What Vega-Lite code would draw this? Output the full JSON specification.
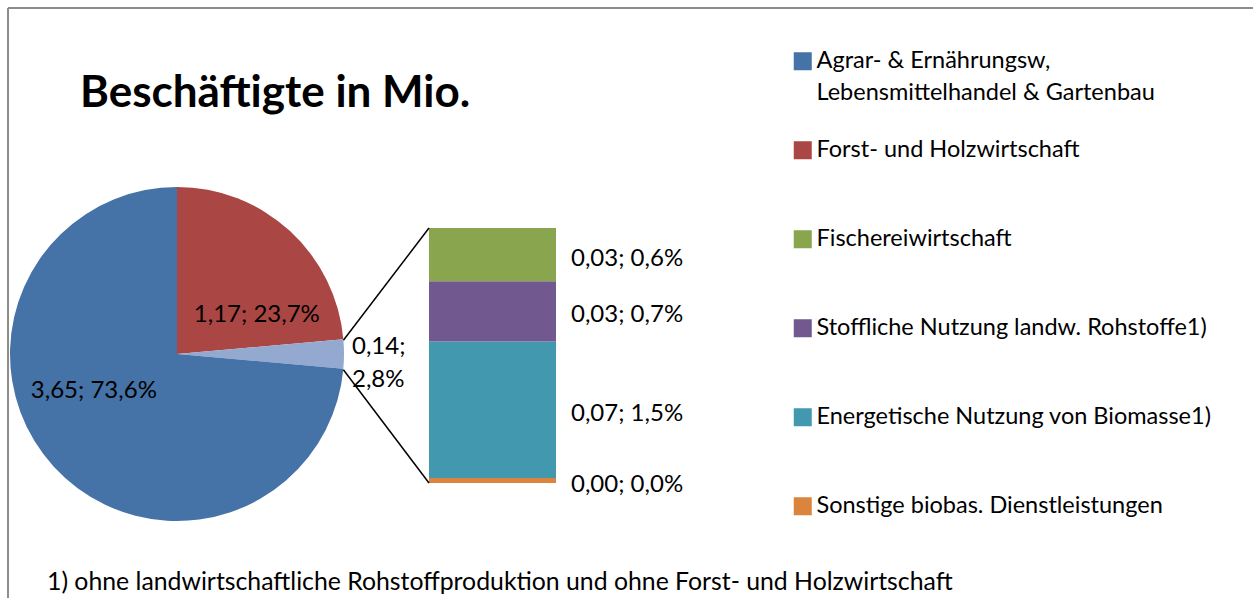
{
  "$schema": "https://vega.github.io/schema/vega-lite/v6.json",
  "width": 1253,
  "height": 598,
  "autosize": "none",
  "padding": 0,
  "background": "white",
  "config": {"view": {"stroke": null}, "font": "Lato"},
  "title": {"text": "Beschäftigte in Mio.", "anchor": "start", "frame": "group", "orient": "top", "offset": -151, "dx": 80, "baseline": "alphabetic", "fontSize": 44, "fontWeight": "bold", "font": "Lato", "color": "black"},
  "datasets": {
    "pie": [
      {"name": "Forst- und Holzwirtschaft", "value": 1.17, "pct": 23.7, "label": "1,17; 23,7%", "order": 1},
      {"name": "Andere", "value": 0.14, "pct": 2.8, "label": "0,14;\n2,8%", "order": 2},
      {"name": "Agrar- & Ernährungsw, Lebensmittelhandel & Gartenbau", "value": 3.65, "pct": 73.6, "label": "3,65; 73,6%", "order": 3}
    ],
    "bar": [
      {"name": "Sonstige biobas. Dienstleistungen", "value": 0.0027, "pct": 0.055, "label": "0,00; 0,0%", "order": 1},
      {"name": "Energetische Nutzung von Biomasse1)", "value": 0.074, "pct": 1.5, "label": "0,07; 1,5%", "order": 2},
      {"name": "Stoffliche Nutzung landw. Rohstoffe1)", "value": 0.033, "pct": 0.66, "label": "0,03; 0,7%", "order": 3},
      {"name": "Fischereiwirtschaft", "value": 0.029, "pct": 0.585, "label": "0,03; 0,6%", "order": 4}
    ]
  },
  "data": {"values": [{}]},
  "layer": [
    {
      "mark": {"type": "rule", "color": "#8c8c8c", "strokeWidth": 2},
      "encoding": {
        "x": {"datum": 0.64, "type": "quantitative", "scale": {"domain": [0, 100], "nice": false, "zero": false}, "axis": null},
        "y": {"datum": -1.2627, "type": "quantitative", "scale": {"domain": [-1.2627, 5.3036], "nice": false, "zero": false}, "axis": null},
        "y2": {"datum": 5.2157}
      }
    },
    {
      "mark": {"type": "rule", "color": "#8c8c8c", "strokeWidth": 2},
      "encoding": {
        "x": {"datum": 0.64, "type": "quantitative"},
        "x2": {"datum": 100},
        "y": {"datum": 5.2157, "type": "quantitative"}
      }
    },
    {
      "data": {"name": "pie"},
      "mark": {"type": "arc", "radius": 167},
      "encoding": {
        "theta": {"field": "value", "type": "quantitative", "stack": true},
        "order": {"field": "order", "type": "quantitative"},
        "x": {"datum": 14.126, "type": "quantitative"},
        "y": {"datum": 1.4165, "type": "quantitative"},
        "color": {
          "field": "name", "type": "nominal",
          "scale": {
            "domain": ["Agrar- & Ernährungsw, Lebensmittelhandel & Gartenbau", "Forst- und Holzwirtschaft", "Fischereiwirtschaft", "Stoffliche Nutzung landw. Rohstoffe1)", "Energetische Nutzung von Biomasse1)", "Sonstige biobas. Dienstleistungen", "Andere"],
            "range": ["#4572A7", "#AA4643", "#89A54E", "#71588F", "#4198AF", "#DB843D", "#93A9CF"]
          },
          "legend": {
            "values": ["Agrar- & Ernährungsw, Lebensmittelhandel & Gartenbau", "Forst- und Holzwirtschaft", "Fischereiwirtschaft", "Stoffliche Nutzung landw. Rohstoffe1)", "Energetische Nutzung von Biomasse1)", "Sonstige biobas. Dienstleistungen"],
            "orient": "none", "legendX": 791, "legendY": 49.5, "title": null,
            "symbolType": "square", "symbolSize": 324, "symbolStrokeWidth": 0,
            "labelFont": "Lato", "labelFontSize": 23.5, "labelColor": "black", "labelLimit": 600, "labelOffset": 2,
            "rowPadding": 32, "padding": 0,
            "labelExpr": "datum.label == 'Agrar- & Ernährungsw, Lebensmittelhandel & Gartenbau' ? ['Agrar- & Ernährungsw,', 'Lebensmittelhandel & Gartenbau'] : [datum.label, '']",
            "encode": {"labels": {"update": {"lineHeight": {"value": 32}}}}
          }
        }
      }
    },
    {
      "data": {"name": "pie"},
      "mark": {"type": "text", "radius": 90, "thetaOffset": 0.349, "fontSize": 24, "dy": 3, "align": "center", "baseline": "middle", "color": "black"},
      "encoding": {
        "theta": {"field": "value", "type": "quantitative", "stack": true},
        "order": {"field": "order", "type": "quantitative"},
        "x": {"datum": 14.126, "type": "quantitative"},
        "y": {"datum": 1.4165, "type": "quantitative"},
        "text": {"condition": {"test": "datum.name !== 'Andere'", "field": "label", "type": "nominal"}, "value": ""}
      }
    },
    {
      "data": {"name": "pie"},
      "mark": {"type": "text", "radius": 175, "fontSize": 24, "dy": -7, "align": "left", "baseline": "middle", "lineBreak": "\n", "lineHeight": 33, "color": "black"},
      "encoding": {
        "theta": {"field": "value", "type": "quantitative", "stack": true},
        "order": {"field": "order", "type": "quantitative"},
        "x": {"datum": 14.126, "type": "quantitative"},
        "y": {"datum": 1.4165, "type": "quantitative"},
        "text": {"condition": {"test": "datum.name === 'Andere'", "field": "label", "type": "nominal"}, "value": ""}
      }
    },
    {
      "data": {"name": "bar"},
      "transform": [{"stack": "pct", "groupby": [], "sort": [{"field": "order", "order": "ascending"}], "as": ["s0", "s1"]}],
      "mark": {"type": "rect"},
      "encoding": {
        "x": {"datum": 34.238, "type": "quantitative"},
        "x2": {"datum": 44.373},
        "y": {"field": "s0", "type": "quantitative"},
        "y2": {"field": "s1"},
        "color": {"field": "name", "type": "nominal"}
      }
    },
    {
      "data": {"name": "bar"},
      "transform": [
        {"stack": "pct", "groupby": [], "sort": [{"field": "order", "order": "ascending"}], "as": ["s0", "s1"]},
        {"fold": ["s0", "s1"], "as": ["edge", "yv"]},
        {"aggregate": [{"op": "mean", "field": "yv", "as": "ymid"}], "groupby": ["label"]}
      ],
      "mark": {"type": "text", "align": "left", "baseline": "middle", "fontSize": 24, "dy": 4, "color": "black"},
      "encoding": {
        "x": {"datum": 45.57, "type": "quantitative"},
        "y": {"field": "ymid", "type": "quantitative"},
        "text": {"field": "label", "type": "nominal"}
      }
    },
    {
      "mark": {"type": "rule", "color": "black", "strokeWidth": 1.5},
      "encoding": {
        "x": {"datum": 27.406, "type": "quantitative"},
        "y": {"datum": 1.567, "type": "quantitative"},
        "x2": {"datum": 34.238},
        "y2": {"datum": 2.8}
      }
    },
    {
      "mark": {"type": "rule", "color": "black", "strokeWidth": 1.5},
      "encoding": {
        "x": {"datum": 27.406, "type": "quantitative"},
        "y": {"datum": 1.244, "type": "quantitative"},
        "x2": {"datum": 34.238},
        "y2": {"datum": 0}
      }
    },
    {
      "mark": {"type": "text", "align": "left", "baseline": "alphabetic", "fontSize": 24.8, "color": "black"},
      "encoding": {
        "x": {"datum": 3.751, "type": "quantitative"},
        "y": {"datum": -1.1749, "type": "quantitative"},
        "text": {"value": "1) ohne landwirtschaftliche Rohstoffproduktion und ohne Forst- und Holzwirtschaft"}
      }
    }
  ]
}
